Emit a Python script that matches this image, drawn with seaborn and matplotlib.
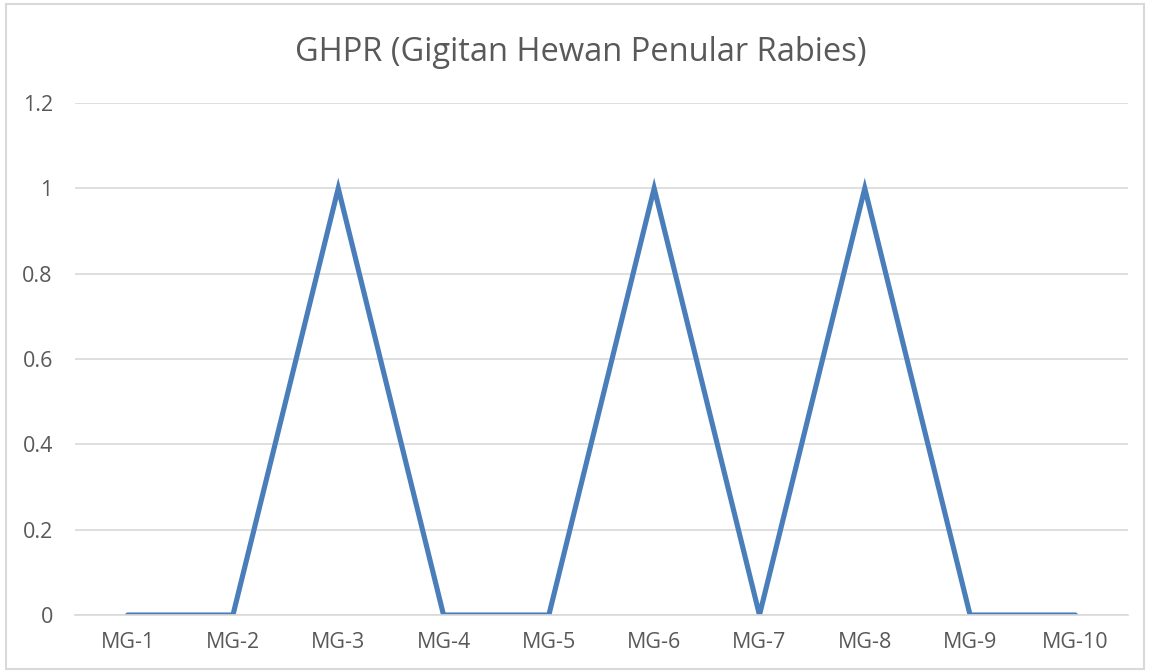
import matplotlib

matplotlib.use("Agg")

import matplotlib.pyplot as plt  # noqa: E402
import pandas as pd  # noqa: E402
import seaborn as sns  # noqa: E402
from matplotlib.patches import Rectangle  # noqa: E402

categories = ["MG-1", "MG-2", "MG-3", "MG-4", "MG-5",
              "MG-6", "MG-7", "MG-8", "MG-9", "MG-10"]
values = [0, 0, 1, 0, 0, 1, 0, 1, 0, 0]
y_ticks = [0, 0.2, 0.4, 0.6, 0.8, 1, 1.2]
y_tick_labels = ["0", "0.2", "0.4", "0.6", "0.8", "1", "1.2"]

sns.set_theme(style="white")
plt.rcParams["font.family"] = ["Open Sans", "DejaVu Sans"]

df = pd.DataFrame({"Kategori": categories, "Nilai": values})
df["pos"] = range(len(df))

fig = plt.figure(figsize=(11.5, 6.72), dpi=100)
ax = fig.add_axes([0.0652, 0.0848, 0.9157, 0.7619])

sns.lineplot(data=df, x="pos", y="Nilai", ax=ax, color="#4A7EBB",
             linewidth=3.7, solid_capstyle="round", solid_joinstyle="miter")

ax.set_xlim(-0.5, len(categories) - 0.5)
ax.set_ylim(0, 1.2)
ax.set_xticks(range(len(categories)))
ax.set_xticklabels(categories)
ax.set_yticks(y_ticks)
ax.set_yticklabels(y_tick_labels)
ax.yaxis.grid(True, color="#D9D9D9", linewidth=1.2)
ax.set_axisbelow(True)
for side in ["top", "right", "left"]:
    ax.spines[side].set_visible(False)
ax.spines["bottom"].set_color("#D9D9D9")
ax.spines["bottom"].set_linewidth(1.2)
ax.tick_params(axis="both", length=0, labelsize=15.5, colors="#595959")
ax.tick_params(axis="x", pad=12)
ax.tick_params(axis="y", pad=16)
ax.set_xlabel("")
ax.set_ylabel("")

fig.text(0.505, 0.922, "GHPR (Gigitan Hewan Penular Rabies)", ha="center", va="center",
         fontsize=23.5, color="#595959")

fig.patches.append(Rectangle((0.005, 0.004), 0.99, 0.99, transform=fig.transFigure,
                             fill=False, edgecolor="#D9D9D9", linewidth=1.5))

fig.savefig("out.png", dpi=100)
